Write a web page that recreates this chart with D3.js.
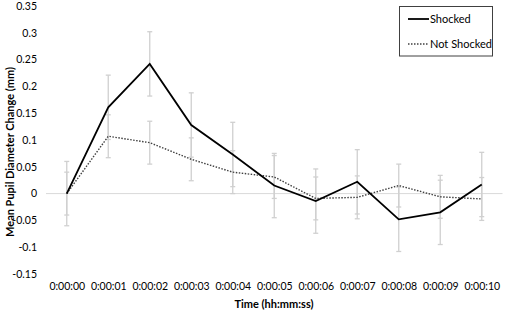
<!DOCTYPE html>
<html>
<head>
<meta charset="utf-8">
<script src="https://cdn.jsdelivr.net/npm/d3@7"></script>
<style>
  body { margin: 0; background: #fff; }
  svg { display: block; font-family: Lato, "Liberation Sans", Arial, sans-serif; }
</style>
</head>
<body>
<svg></svg>
<script>
// time labels along the bottom
var times = ["0:00:00", "0:00:01", "0:00:02", "0:00:03", "0:00:04", "0:00:05",
             "0:00:06", "0:00:07", "0:00:08", "0:00:09", "0:00:10"];

// mean pupil diameter change (mm)
var shocked    = [0, 0.161, 0.242, 0.128, 0.073, 0.015, -0.014, 0.022, -0.048, -0.035, 0.017];
var notShocked = [0, 0.107, 0.095, 0.064, 0.040, 0.031, -0.009, -0.007, 0.015, -0.006, -0.010];

// error bar half widths
var shockedErr    = [0.06, 0.06, 0.06, 0.06, 0.06, 0.06, 0.06, 0.06, 0.06, 0.06, 0.06];
var notShockedErr = [0.04, 0.04, 0.04, 0.04, 0.04, 0.04, 0.04, 0.04, 0.04, 0.04, 0.04];

var yTicks = [-0.15, -0.1, -0.05, 0, 0.05, 0.1, 0.15, 0.2, 0.25, 0.3, 0.35];

var svgWidth = 505, svgHeight = 312;
var font = "Lato, Liberation Sans, Arial, sans-serif";

var svg = d3.select("svg")
    .attr("width", svgWidth)
    .attr("height", svgHeight);

//scales
var xScale = d3.scalePoint()
    .domain(times)
    .range([46, 502.5])
    .padding(0.5);

var yScale = d3.scaleLinear()
    .domain([-0.15, 0.35])
    .range([274, 6]);

//zero line
svg.append("line")
    .attr("x1", 46).attr("x2", 502.5)
    .attr("y1", yScale(0)).attr("y2", yScale(0))
    .attr("stroke", "#d9d9d9")
    .attr("stroke-width", 1);

//y axis, labels only
var y_axis = d3.axisLeft(yScale)
    .tickValues(yTicks)
    .tickSize(0)
    .tickPadding(0)
    .tickFormat(function(d) { return String(+d.toFixed(2)); });

svg.append("g")
    .attr("transform", "translate(37, 0)")
    .call(y_axis)
    .call(function(g) { g.select(".domain").remove(); })
    .selectAll("text")
    .attr("font-size", 10.5)
    .attr("fill", "#000")
    .attr("font-family", font);

//x axis, labels only
var x_axis = d3.axisBottom(xScale)
    .tickSize(0)
    .tickPadding(0);

svg.append("g")
    .attr("transform", "translate(0, 283)")
    .call(x_axis)
    .call(function(g) { g.select(".domain").remove(); })
    .selectAll("text")
    .attr("font-size", 10.5)
    .attr("fill", "#000")
    .attr("font-family", font);

//axis titles
svg.append("text")
    .attr("x", 274)
    .attr("y", 307.5)
    .attr("text-anchor", "middle")
    .attr("font-size", 11)
    .attr("font-weight", "bold")
    .text("Time (hh:mm:ss)");

svg.append("text")
    .attr("transform", "translate(13.5, 152) rotate(-90)")
    .attr("text-anchor", "middle")
    .attr("font-size", 11)
    .attr("font-weight", "bold")
    .text("Mean Pupil Diameter Change (mm)");

//error bars
function errorBars(values, errs) {
    var g = svg.append("g")
        .attr("stroke", "#d0d0d0")
        .attr("stroke-width", 1.3);
    values.forEach(function(v, i) {
        var x = xScale(times[i]);
        var top = yScale(v + errs[i]), bot = yScale(v - errs[i]);
        g.append("line").attr("x1", x).attr("x2", x).attr("y1", top).attr("y2", bot);
        g.append("line").attr("x1", x - 2.5).attr("x2", x + 2.5).attr("y1", top).attr("y2", top);
        g.append("line").attr("x1", x - 2.5).attr("x2", x + 2.5).attr("y1", bot).attr("y2", bot);
    });
}
errorBars(shocked, shockedErr);
errorBars(notShocked, notShockedErr);

//lines
var line = d3.line()
    .x(function(d, i) { return xScale(times[i]); })
    .y(function(d) { return yScale(d); });

svg.append("path")
    .datum(notShocked)
    .attr("d", line)
    .attr("fill", "none")
    .attr("stroke", "#404040")
    .attr("stroke-width", 1.4)
    .attr("stroke-dasharray", "1.5,1.5");

svg.append("path")
    .datum(shocked)
    .attr("d", line)
    .attr("fill", "none")
    .attr("stroke", "#000")
    .attr("stroke-width", 1.8);

//legend
var legend = svg.append("g");
legend.append("rect")
    .attr("x", 399.5).attr("y", 6.5)
    .attr("width", 93).attr("height", 49.5)
    .attr("fill", "#fff")
    .attr("stroke", "#404040")
    .attr("stroke-width", 1);

legend.append("line")
    .attr("x1", 408).attr("x2", 429)
    .attr("y1", 19).attr("y2", 19)
    .attr("stroke", "#000").attr("stroke-width", 1.8);
legend.append("text")
    .attr("x", 430).attr("y", 19).attr("dy", "0.35em")
    .attr("font-size", 11)
    .text("Shocked");

legend.append("line")
    .attr("x1", 408).attr("x2", 429)
    .attr("y1", 44).attr("y2", 44)
    .attr("stroke", "#404040").attr("stroke-width", 1.4)
    .attr("stroke-dasharray", "1.5,1.5");
legend.append("text")
    .attr("x", 430).attr("y", 44).attr("dy", "0.35em")
    .attr("font-size", 11)
    .text("Not Shocked");
</script>
</body>
</html>
